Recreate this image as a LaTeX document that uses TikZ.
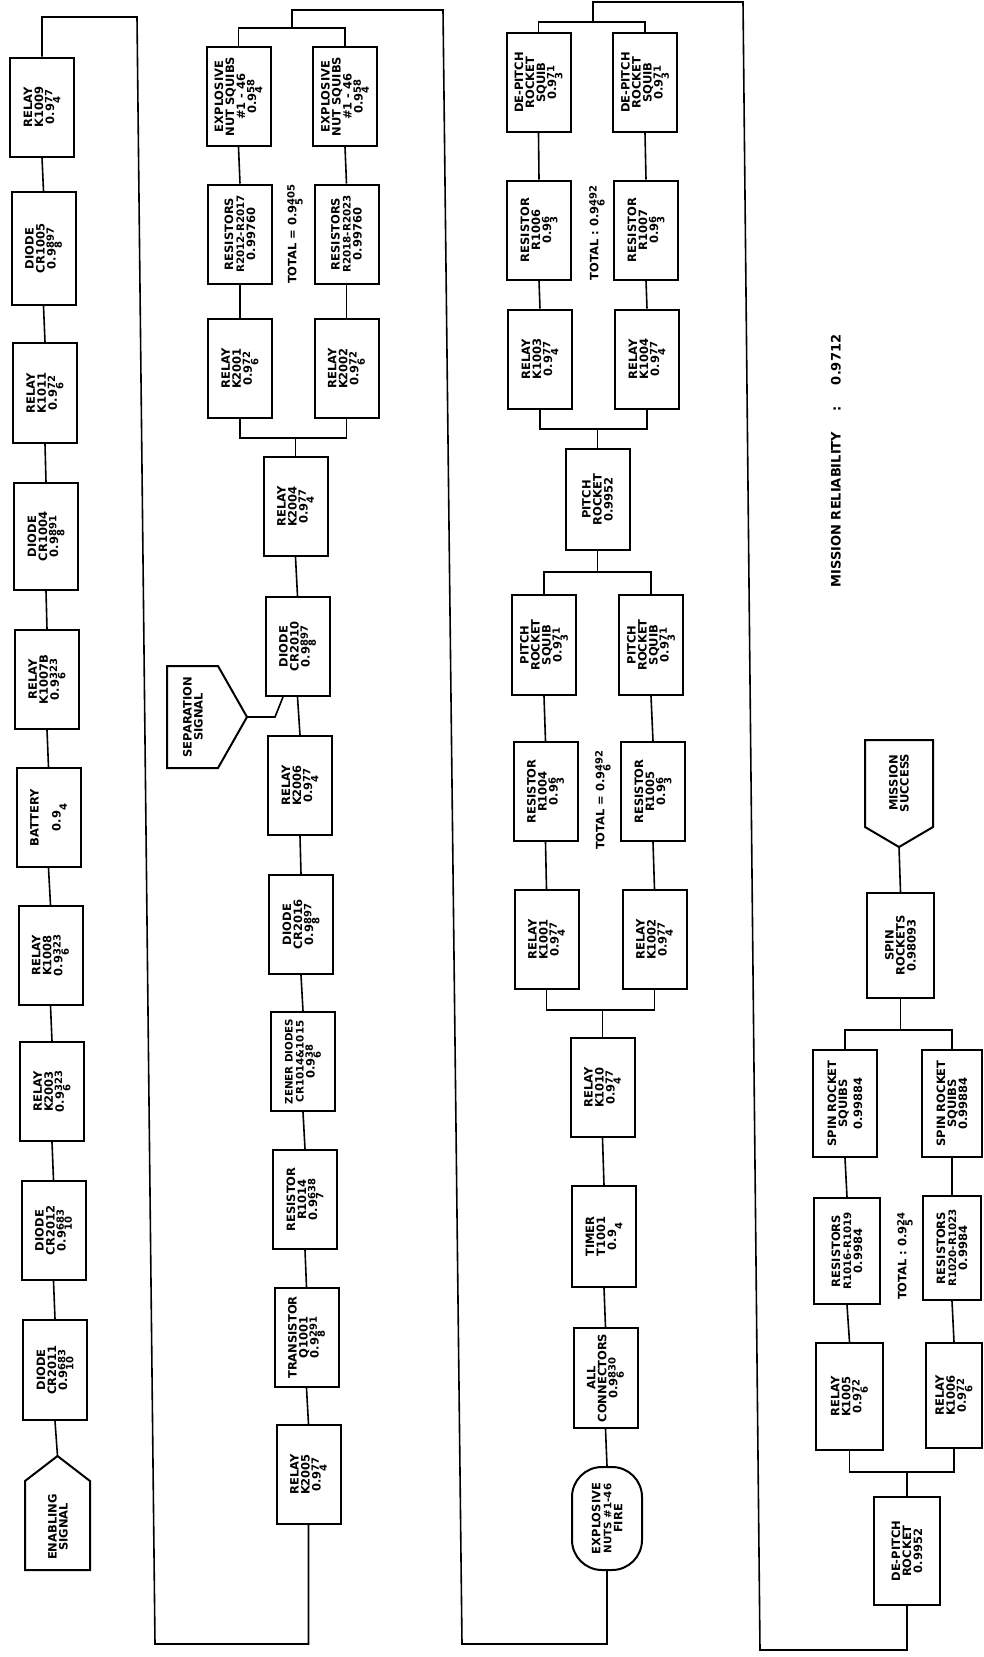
\documentclass[tikz,border=0pt]{standalone}
\usepackage{fontspec}
\setmainfont{DejaVu Sans}
\usetikzlibrary{calc}
\newcommand\scrsz{\fontsize{10}{10}\selectfont}
\newcommand\nn[2]{0.9\rlap{\raisebox{-0.55em}{\scrsz #1}}\raisebox{0.15em}{\scrsz #2}}
\newcommand\nb[1]{0.9\raisebox{-0.55em}{\scrsz #1}}
\newcommand\smfont{\fontsize{10.3}{11}\selectfont}
\begin{document}
\begin{tikzpicture}[x=1pt,y=-1pt,
  blk/.style={draw, line width=2pt, rotate=90, minimum width=99pt, minimum height=64pt,
    inner sep=1pt, align=center, font=\bfseries\fontsize{11.5}{11}\selectfont},
  lbl/.style={rotate=90, align=center, inner sep=1pt, font=\bfseries\fontsize{11.5}{11}\selectfont},
  wire/.style={line width=1.6pt},
  outl/.style={line width=2pt, line join=miter}]
\useasboundingbox (0,0) rectangle (984,1657);
\fill[white] (0,0) rectangle (984,1657);

% ---------------- column 1 ----------------
\node[blk] (k1009) at (42,107) {RELAY\\K1009\\\nn{4}{77}};
\node[blk, minimum width=113pt] (cr1005) at (43.5,248.5) {DIODE\\CR1005\\\nn{8}{897}};
\node[blk, minimum width=100pt] (k1011) at (45,393) {RELAY\\K1011\\\nn{6}{72}};
\node[blk, minimum width=107pt] (cr1004) at (46,536.5) {DIODE\\CR1004\\\nn{8}{891}};
\node[blk] (k1007) at (47,679.5) {RELAY\\K1007B\\\nn{6}{323}};
\node[blk] (bat) at (48.5,817.5) {BATTERY\\[11pt]\nb{4}};
\node[blk] (k1008) at (50.5,955.5) {RELAY\\K1008\\\nn{6}{323}};
\node[blk] (k2003) at (52,1091.5) {RELAY\\K2003\\\nn{6}{323}};
\node[blk] (cr2012) at (53.5,1230.5) {DIODE\\CR2012\\\nn{10}{683}};
\node[blk, minimum width=100pt] (cr2011) at (55,1370) {DIODE\\CR2011\\\nn{10}{683}};
\node[lbl] (en) at (58,1527) {ENABLING\\SIGNAL};
\coordinate (enTip) at (57.5,1456);
\draw[outl] (25,1481) -- (enTip) -- (90,1481) -- (90,1570) -- (25,1570) -- cycle;

% ---------------- column 2 ----------------
\node[blk] (expL) at (238.5,96.5) {EXPLOSIVE\\NUT SQUIBS\\\#1 - 46\\\nn{4}{58}};
\node[blk] (expR) at (345,96.5) {EXPLOSIVE\\NUT SQUIBS\\\#1 - 46\\\nn{4}{58}};
\node[blk] (resL) at (240,234) {RESISTORS\\{\smfont R2012-R2017}\\0.99760};
\node[blk] (resR) at (346.5,234) {RESISTORS\\{\smfont R2018-R2023}\\0.99760};
\node[lbl] (tot2) at (295,234) {TOTAL = \nn{5}{405}};
\node[blk] (relL) at (240,368.5) {RELAY\\K2001\\\nn{6}{72}};
\node[blk] (relR) at (346.5,368.5) {RELAY\\K2002\\\nn{6}{72}};
\node[blk] (k2004) at (295.5,506.5) {RELAY\\K2004\\\nn{4}{77}};
\node[blk] (cr2010) at (297.5,646.5) {DIODE\\CR2010\\\nn{8}{897}};
\node[blk] (k2006) at (300,785.5) {RELAY\\K2006\\\nn{4}{77}};
\node[blk] (cr2016) at (301,924.5) {DIODE\\CR2016\\\nn{8}{897}};
\node[blk] (zener) at (303,1061.5) {{\smfont ZENER DIODES}\\{\smfont CR1014\&1015}\\\nn{6}{38}};
\node[blk] (r1014) at (305,1199.5) {RESISTOR\\R1014\\\nn{7}{638}};
\node[blk] (q1001) at (306.5,1337.5) {TRANSISTOR\\Q1001\\\nn{8}{291}};
\node[blk] (k2005) at (308.5,1474.5) {RELAY\\K2005\\\nn{4}{77}};
\node[lbl] (sep) at (193,717) {SEPARATION\\SIGNAL};
\coordinate (sepTip) at (247,717);
\draw[outl] (167,666) -- (218,666) -- (sepTip) -- (218,768) -- (167,768) -- cycle;

% ---------------- column 3 ----------------
\node[blk] (dpsL) at (538.5,82.5) {DE-PITCH\\ROCKET\\SQUIB\\\nn{3}{71}};
\node[blk] (dpsR) at (645,82.5) {DE-PITCH\\ROCKET\\SQUIB\\\nn{3}{71}};
\node[blk] (r1006) at (539,230) {RESISTOR\\R1006\\\nn{3}{6}};
\node[blk] (r1007) at (646,230) {RESISTOR\\R1007\\\nn{3}{6}};
\node[lbl] (tot3a) at (597,233) {TOTAL : \nn{6}{492}};
\node[blk] (k1003) at (540,359) {RELAY\\K1003\\\nn{4}{77}};
\node[blk] (k1004) at (647,359) {RELAY\\K1004\\\nn{4}{77}};
\node[blk, minimum width=101pt] (pitch) at (597.5,499.5) {PITCH\\ROCKET\\0.9952};
\node[blk, minimum width=100pt] (psL) at (544,645) {PITCH\\ROCKET\\SQUIB\\\nn{3}{71}};
\node[blk, minimum width=100pt] (psR) at (651,645) {PITCH\\ROCKET\\SQUIB\\\nn{3}{71}};
\node[blk] (r1004) at (545.5,791.5) {RESISTOR\\R1004\\\nn{3}{6}};
\node[blk] (r1005) at (653,791.5) {RESISTOR\\R1005\\\nn{3}{6}};
\node[lbl] (tot3b) at (603,800) {TOTAL = \nn{6}{492}};
\node[blk] (k1001) at (546.5,939.5) {RELAY\\K1001\\\nn{4}{77}};
\node[blk] (k1002) at (654.5,939.5) {RELAY\\K1002\\\nn{4}{77}};
\node[blk] (k1010) at (602.5,1087.5) {RELAY\\K1010\\\nn{4}{77}};
\node[blk, minimum width=101pt] (timer) at (604,1236.5) {TIMER\\T1001\\\nb{4}};
\node[blk, minimum width=100pt] (conn) at (605.5,1378) {ALL\\CONNECTORS\\\nn{6}{830}};
\node[blk, rounded corners=30pt, minimum width=103pt, minimum height=70pt] (oval) at (607,1518.5) {EXPLOSIVE\\{\smfont NUTS \#1-46}\\FIRE};

% ---------------- column 4 ----------------
\node[rotate=90, inner sep=1pt, font=\bfseries\fontsize{13}{13}\selectfont] (mr) at (836,461) {MISSION RELIABILITY\hspace{1.6em}:\hspace{1.6em}0.9712};
\node[lbl] (ms) at (899,783) {MISSION\\SUCCESS};
\coordinate (msTip) at (899,847);
\draw[outl] (865,740) -- (933,740) -- (933,827) -- (msTip) -- (865,827) -- cycle;
\node[blk, minimum height=67pt, minimum width=105pt] (spin) at (900.5,945.5) {SPIN\\ROCKETS\\0.98093};
\node[blk, minimum height=64pt, minimum width=107pt] (sqL) at (845,1103.5) {SPIN ROCKET\\SQUIBS\\[4pt]0.99884};
\node[blk, minimum height=60pt, minimum width=107pt] (sqR) at (952,1103.5) {SPIN ROCKET\\SQUIBS\\0.99884};
\node[blk, minimum height=66pt, minimum width=106pt] (res4L) at (847,1251) {RESISTORS\\{\smfont R1016-R1019}\\0.9984};
\node[blk, minimum height=58pt, minimum width=104pt] (res4R) at (952,1248) {RESISTORS\\{\smfont R1020-R1023}\\0.9984};
\node[lbl] (tot4) at (905,1256) {TOTAL : \nn{5}{24}};
\node[blk, minimum height=67pt, minimum width=107pt] (k1005) at (849.5,1396.5) {RELAY\\K1005\\\nn{6}{72}};
\node[blk, minimum height=56pt, minimum width=105pt] (k1006) at (954,1395.5) {RELAY\\K1006\\\nn{6}{72}};
\node[blk, minimum height=66pt, minimum width=108pt] (depitch) at (907,1551) {DE-PITCH\\ROCKET\\0.9952};

% ---------------- connectors ----------------
\coordinate (t1) at (0,17);
\coordinate (c1a) at (137,17);
\coordinate (c1b) at (155,1644);
\coordinate (b2) at (0,438);
\coordinate (t2) at (0,28);
\coordinate (j2a) at (292,28);
\coordinate (j2b) at (292,10);
\coordinate (c3a) at (443,10);
\coordinate (c3b) at (462,1644);
\coordinate (b3) at (0,1010);
\coordinate (b4) at (0,572);
\coordinate (b5) at (0,429);
\coordinate (t3) at (0,22);
\coordinate (j3a) at (593,22);
\coordinate (j3b) at (593,2);
\coordinate (c4a) at (743,2);
\coordinate (c4b) at (760,1650);
\coordinate (b6) at (0,1472);
\coordinate (b7) at (0,1030);
\coordinate (sepBend) at (275,717);

% column 1
\draw[wire] (enTip) -- (cr2011.west);
\foreach \a/\b in {cr2011/cr2012,cr2012/k2003,k2003/k1008,k1008/bat,bat/k1007,k1007/cr1004,cr1004/k1011,k1011/cr1005,cr1005/k1009}
  \draw[wire] (\a.east) -- (\b.west);
\draw[wire] (k1009.east) -- (k1009.east |- t1) -- (c1a) -- (c1b) -- (k2005.west |- c1b) -- (k2005.west);

% column 2
\foreach \a/\b in {k2005/q1001,q1001/r1014,r1014/zener,zener/cr2016,cr2016/k2006,k2006/cr2010,cr2010/k2004,relL/resL,resL/expL,relR/resR,resR/expR}
  \draw[wire] (\a.east) -- (\b.west);
\draw[wire] (k2004.east) -- (k2004.east |- b2);
\draw[wire] (relL.west) -- (relL.west |- b2) -- (relR.west |- b2) -- (relR.west);
\draw[wire] (expL.east) -- (expL.east |- t2) -- (expR.east |- t2) -- (expR.east);
\draw[wire] (j2a) -- (j2b) -- (c3a) -- (c3b) -- (oval.west |- c3b) -- (oval.west);
\draw[wire] (sepTip) -- (sepBend) -- ($(cr2010.west)+(-14.5,0)$);

% column 3
\foreach \a/\b in {oval/conn,conn/timer,timer/k1010,k1001/r1004,r1004/psL,k1002/r1005,r1005/psR,k1003/r1006,r1006/dpsL,k1004/r1007,r1007/dpsR}
  \draw[wire] (\a.east) -- (\b.west);
\draw[wire] (k1010.east) -- (k1010.east |- b3);
\draw[wire] (k1001.west) -- (k1001.west |- b3) -- (k1002.west |- b3) -- (k1002.west);
\draw[wire] (psL.east) -- (psL.east |- b4) -- (psR.east |- b4) -- (psR.east);
\draw[wire] (pitch.west) -- (pitch.west |- b4);
\draw[wire] (pitch.east) -- (pitch.east |- b5);
\draw[wire] (k1003.west) -- (k1003.west |- b5) -- (k1004.west |- b5) -- (k1004.west);
\draw[wire] (dpsL.east) -- (dpsL.east |- t3) -- (dpsR.east |- t3) -- (dpsR.east);
\draw[wire] (j3a) -- (j3b) -- (c4a) -- (c4b) -- (depitch.west |- c4b) -- (depitch.west);

% column 4
\foreach \a/\b in {k1005/res4L,res4L/sqL,k1006/res4R,res4R/sqR}
  \draw[wire] (\a.east) -- (\b.west);
\draw[wire] (depitch.east) -- (depitch.east |- b6);
\draw[wire] (k1005.west) -- (k1005.west |- b6) -- (k1006.west |- b6) -- (k1006.west);
\draw[wire] (sqL.east) -- (sqL.east |- b7) -- (sqR.east |- b7) -- (sqR.east);
\draw[wire] (spin.west) -- (spin.west |- b7);
\draw[wire] (spin.east) -- (msTip);
\end{tikzpicture}
\end{document}
